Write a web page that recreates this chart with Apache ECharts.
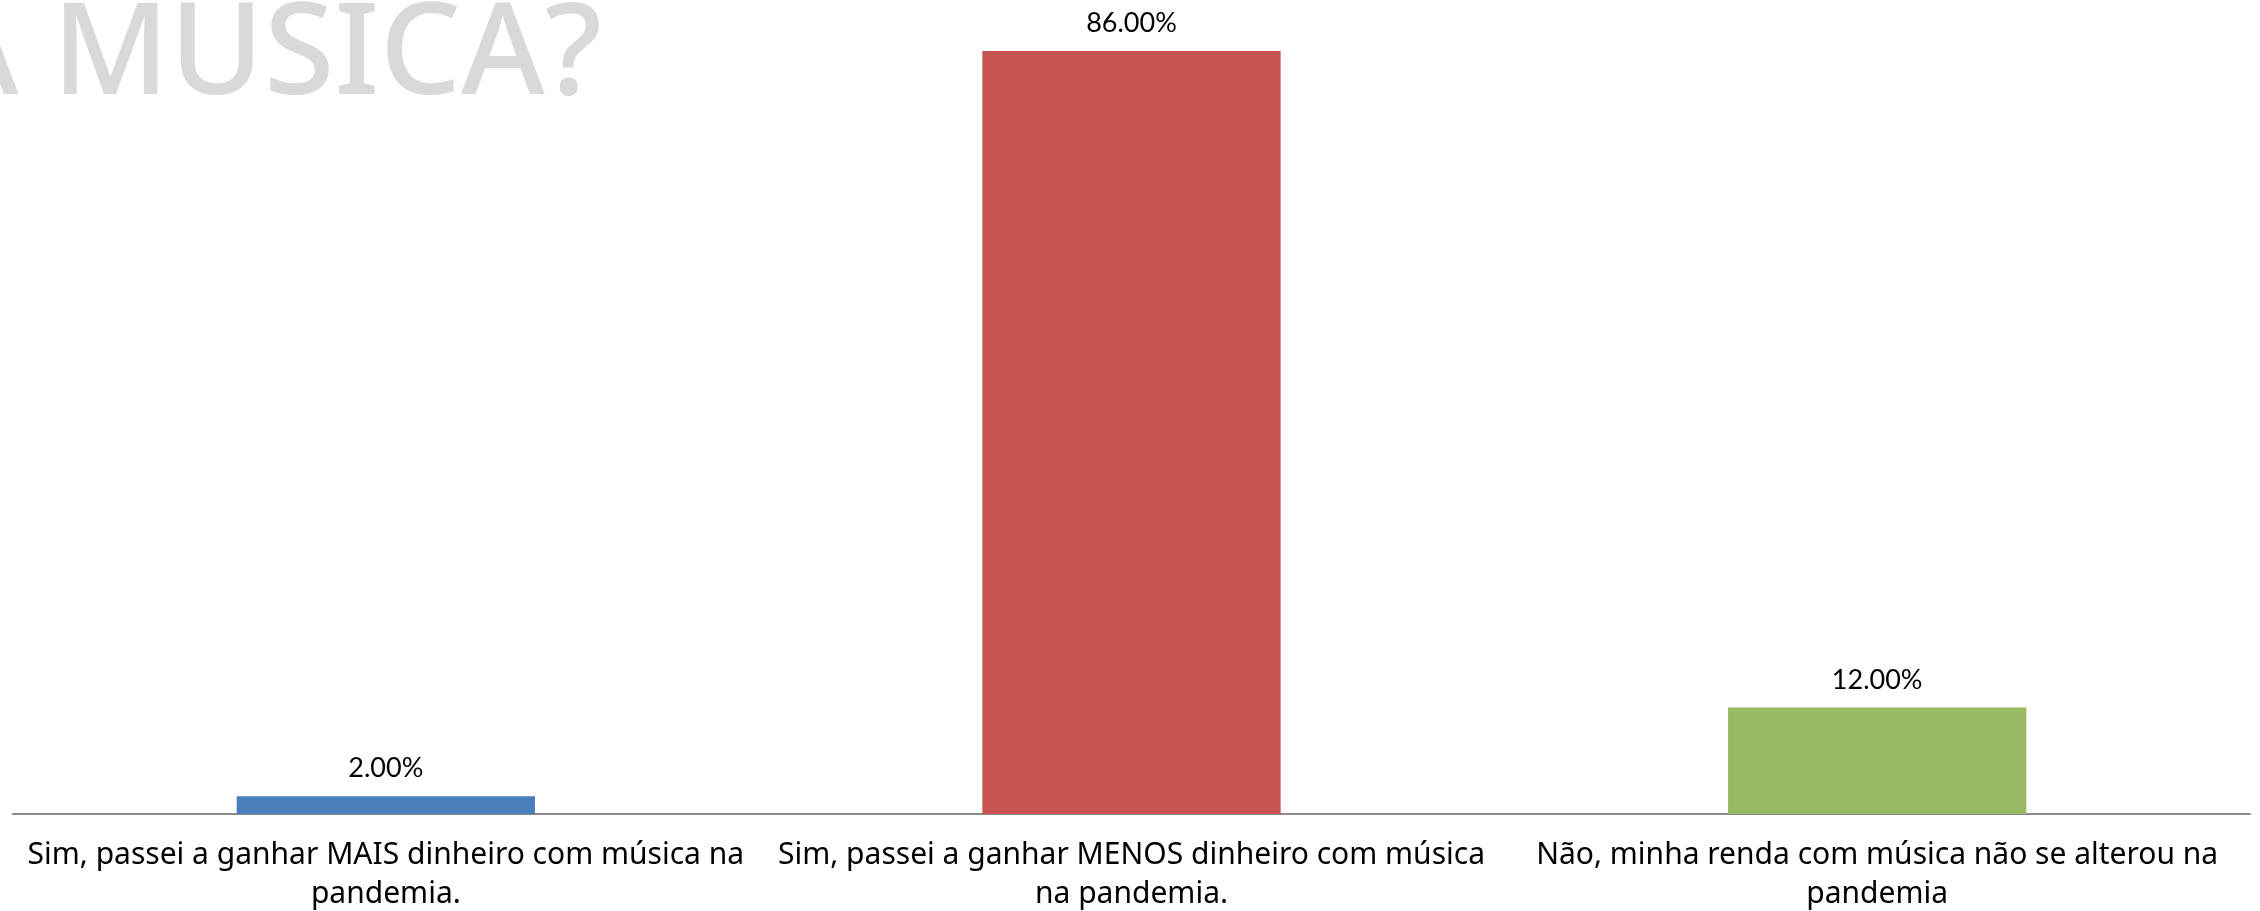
<!DOCTYPE html>
<html>
<head>
<meta charset="utf-8">
<script src="https://cdn.jsdelivr.net/npm/echarts@6/dist/echarts.min.js"></script>
<style>
html,body{margin:0;padding:0;background:#fff;}
#chart{width:2260px;height:911px;}
</style>
</head>
<body>
<div id="chart"></div>
<script>
const categories = [
  "Sim, passei a ganhar MAIS dinheiro com música na\npandemia.",
  "Sim, passei a ganhar MENOS dinheiro com música\nna pandemia.",
  "Não, minha renda com música não se alterou na\npandemia"
];
const values = [2, 86, 12];
const barColors = ["#4A7EBB", "#C65350", "#98B95F"];
const backgroundTitle = "A MUSICA?";

const chart = echarts.init(document.getElementById('chart'));
chart.setOption({
  backgroundColor: '#ffffff',
  animation: false,
  graphic: [{
    type: 'text',
    x: 602,
    y: 58,
    z: 0,
    style: {
      text: backgroundTitle,
      fill: '#D9D9D9',
      font: '500 128px "Noto Sans"',
      textAlign: 'right',
      textVerticalAlign: 'middle'
    }
  }],
  grid: { left: 13, right: 10, top: 15.5, bottom: 97, containLabel: false, outerBoundsMode: 'none' },
  xAxis: {
    type: 'category',
    data: categories,
    axisTick: { show: false },
    axisLine: { lineStyle: { color: '#8C8C8C', width: 2 } },
    axisLabel: {
      interval: 0,
      color: '#000000',
      fontFamily: 'Noto Sans',
      fontSize: 30,
      lineHeight: 39,
      margin: 22
    }
  },
  yAxis: {
    type: 'value',
    min: 0,
    max: 90,
    show: false,
    splitLine: { show: false }
  },
  series: [{
    type: 'bar',
    barWidth: '40%',
    data: values.map((v, i) => ({ value: v, itemStyle: { color: barColors[i] } })),
    label: {
      show: true,
      position: 'top',
      distance: 14,
      color: '#000000',
      fontFamily: 'Lato',
      fontSize: 27,
      formatter: p => p.value.toFixed(2) + '%'
    }
  }]
});
</script>
</body>
</html>
